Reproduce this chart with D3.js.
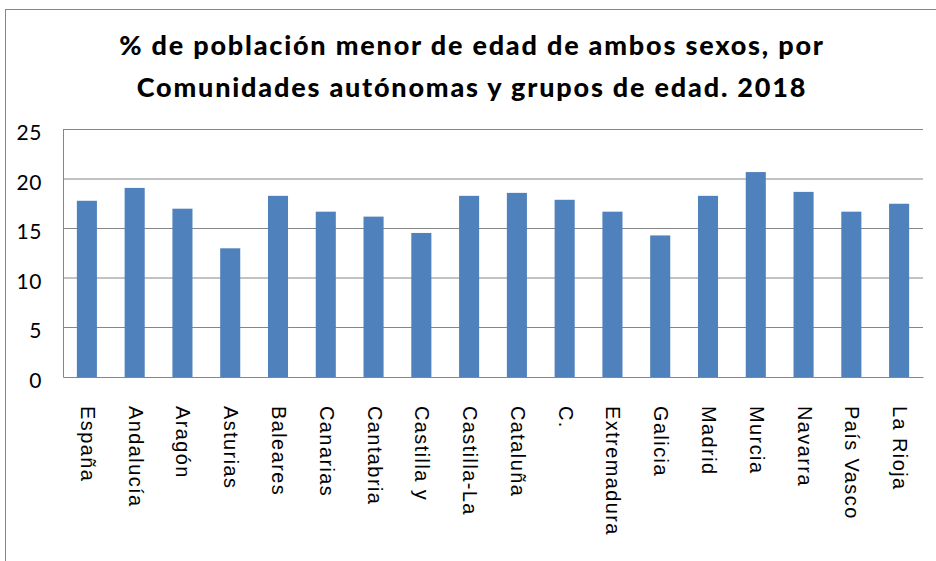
<!DOCTYPE html>
<html><head><meta charset="utf-8">
<script src="https://cdn.jsdelivr.net/npm/d3@7"></script>
<style>body{margin:0;background:#fff}svg{display:block}</style>
</head><body>
<svg id="chart" width="936" height="561"></svg>
<script>
const categories = ["España","Andalucía","Aragón","Asturias","Baleares","Canarias","Cantabria","Castilla y","Castilla-La","Cataluña","C.","Extremadura","Galicia","Madrid","Murcia","Navarra","País Vasco","La Rioja"];
const values = [17.8,19.1,17.0,13.0,18.3,16.7,16.2,14.55,18.3,18.6,17.9,16.7,14.3,18.3,20.7,18.7,16.7,17.5];
const yTicks = [0,5,10,15,20,25];
const titleLines = ["% de población menor de edad de ambos sexos, por","Comunidades autónomas y grupos de edad. 2018"];

const svg = d3.select("#chart");
const m = {left:63, right:923, top:129.5, bottom:377};

svg.append("rect").attr("x",5.5).attr("y",9.5).attr("width",1000).attr("height",1000)
  .attr("fill","none").attr("stroke","#868686").attr("stroke-width",1);

const x = d3.scaleBand().domain(categories).range([m.left,m.right]).paddingInner(0.58).paddingOuter(0.29);
const y = d3.scaleLinear().domain([0,25]).range([m.bottom,m.top]);

// gridlines
svg.append("g").selectAll("line").data(yTicks.filter(d=>d>0)).join("line")
  .attr("x1",m.left).attr("x2",m.right).attr("y1",d=>y(d)).attr("y2",d=>y(d))
  .attr("stroke","#868686").attr("stroke-width",1);

// bars
svg.append("g").selectAll("rect").data(values).join("rect")
  .attr("x",(d,i)=>x(categories[i])).attr("width",x.bandwidth())
  .attr("y",d=>y(d)).attr("height",d=>y(0)-y(d)).attr("fill","#4f81bd");

// y axis
const ya = svg.append("g").attr("transform",`translate(${m.left},0)`)
  .call(d3.axisLeft(y).tickValues(yTicks).tickSize(0).tickPadding(21));
ya.select(".domain").attr("stroke","#868686");
ya.selectAll("text").attr("font-family","Lato, 'Open Sans', sans-serif").attr("font-size",21)
  .attr("letter-spacing","0.6px").attr("fill","#000").attr("dy","0.48em");

// x axis
const xa = svg.append("g").attr("transform",`translate(0,${m.bottom})`)
  .call(d3.axisBottom(x).tickSize(0));
xa.select(".domain").attr("stroke","#868686").attr("stroke-width",1.2);
xa.selectAll("text").attr("font-family","'Liberation Sans', Arial, sans-serif").attr("font-size",20)
  .attr("letter-spacing","1.4px").attr("fill","#000")
  .attr("text-anchor","start").attr("transform","rotate(90)")
  .attr("x",29).attr("y",0).attr("dy","0.3em");

// title
const t = svg.append("text").attr("text-anchor","middle").attr("font-family","Lato, 'Open Sans', sans-serif")
  .attr("font-weight","900").attr("font-size",27).attr("letter-spacing","1.8px").attr("fill","#000");
t.selectAll("tspan").data(titleLines).join("tspan").attr("x",472).attr("y",(d,i)=>55+i*42).text(d=>d);
</script>
</body></html>
